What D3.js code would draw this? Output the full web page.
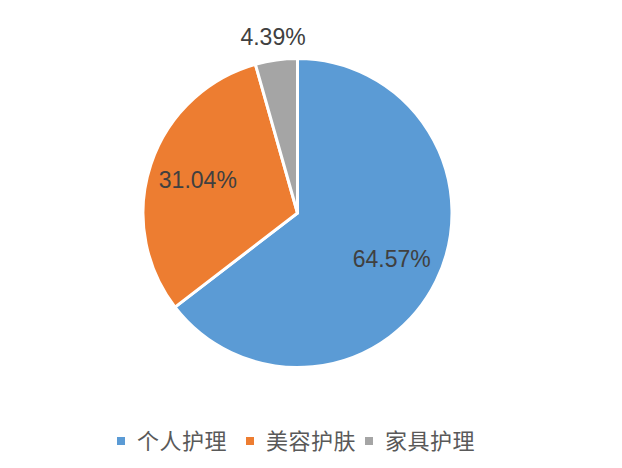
<!DOCTYPE html>
<html>
<head>
<meta charset="utf-8">
<script src="https://cdn.jsdelivr.net/npm/d3@7"></script>
<style>
  body { margin: 0; background: #fff; }
  svg { display: block; }
</style>
</head>
<body>
<div id="chart"></div>
<script>
// data
var categories = ["个人护理", "美容护肤", "家具护理"];
var shares = [64.57, 31.04, 4.39];
var labels = ["64.57%", "31.04%", "4.39%"];
var colors = ["#5B9BD5", "#ED7D31", "#A5A5A5"];

var width = 622,
    height = 468,
    cx = 297.5,
    cy = 213,
    radius = 154.5;

var data = categories.map(function(c, i) {
  return { name: c, value: shares[i], label: labels[i], color: colors[i] };
});

var svg = d3.select("#chart").append("svg")
    .attr("width", width)
    .attr("height", height);

var pie = d3.pie()
    .sort(null)
    .value(function(d) { return d.value; });

var arc = d3.arc()
    .innerRadius(0)
    .outerRadius(radius);

// where the labels sit: inside for the big ones, outside for the small one
var labelArcIn = d3.arc().innerRadius(105).outerRadius(105);
var labelArcOut = d3.arc().innerRadius(178).outerRadius(178);

var g = svg.append("g")
    .attr("transform", "translate(" + cx + "," + cy + ")");

var arcs = pie(data);

g.selectAll("path")
    .data(arcs)
  .enter().append("path")
    .attr("d", arc)
    .attr("fill", function(d) { return d.data.color; })
    .attr("stroke", "#fff")
    .attr("stroke-width", 3)
    .attr("stroke-linejoin", "round");

g.selectAll("text.val")
    .data(arcs)
  .enter().append("text")
    .attr("class", "val")
    .attr("transform", function(d) {
      var a = d.data.value < 10 ? labelArcOut : labelArcIn;
      return "translate(" + a.centroid(d) + ")";
    })
    .attr("text-anchor", "middle")
    .attr("dy", "0.35em")
    .style("font-family", "'Liberation Sans', Arial, sans-serif")
    .style("font-size", "23px")
    .style("fill", "#404040")
    .text(function(d) { return d.data.label; });

// legend
var legendX = [117, 246, 365];
var legend = svg.append("g").attr("class", "legend");

var item = legend.selectAll("g")
    .data(data)
  .enter().append("g")
    .attr("transform", function(d, i) { return "translate(" + legendX[i] + ",441)"; });

item.append("rect")
    .attr("x", 0)
    .attr("y", -4)
    .attr("width", 8)
    .attr("height", 8)
    .attr("fill", function(d) { return d.color; });

item.append("text")
    .attr("x", 20)
    .attr("dy", "0.36em")
    .style("font-family", "'Noto Sans CJK SC', sans-serif")
    .style("font-size", "22px")
    .style("letter-spacing", "0.5px")
    .style("fill", "#595959")
    .text(function(d) { return d.name; });
</script>
</body>
</html>
